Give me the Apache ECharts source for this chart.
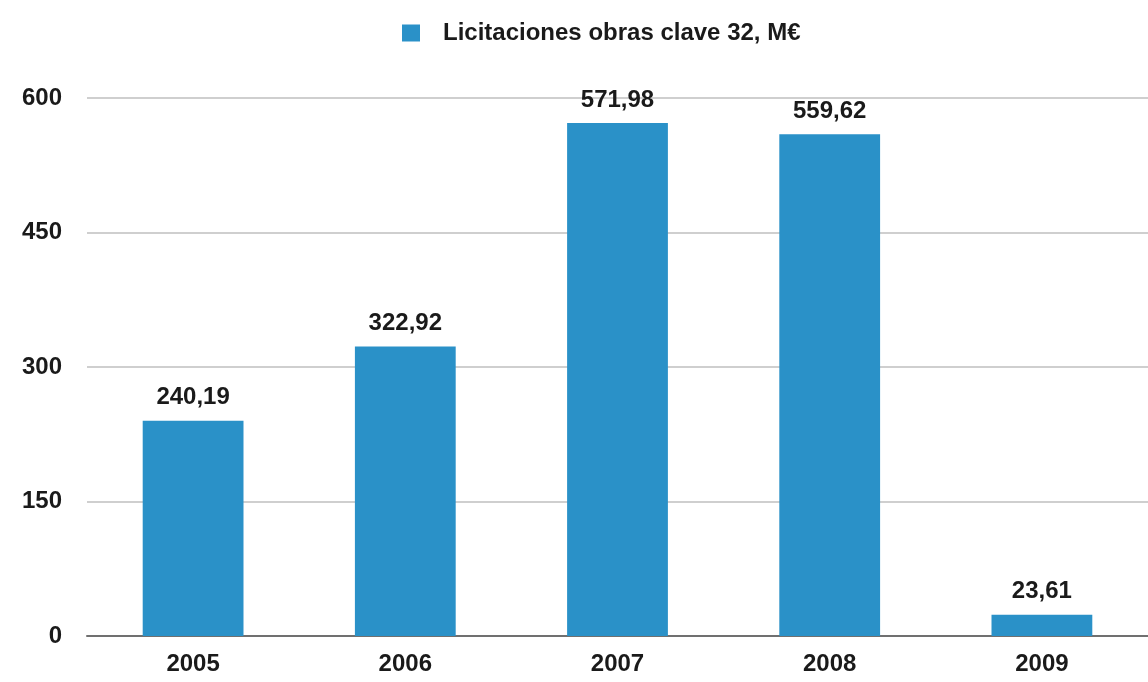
<!DOCTYPE html>
<html>
<head>
<meta charset="utf-8">
<script src="https://cdn.jsdelivr.net/npm/echarts@6/dist/echarts.min.js"></script>
<style>
  html, body { margin: 0; padding: 0; background: #fff; }
  #chart { width: 1148px; height: 682px; }
</style>
</head>
<body>
<div id="chart"></div>
<script>
const years = ["2005", "2006", "2007", "2008", "2009"];
const values = [240.19, 322.92, 571.98, 559.62, 23.61];
const seriesName = "Licitaciones obras clave 32, M€";
const yTicks = [0, 150, 300, 450, 600];

const font = "'Liberation Sans', Arial, sans-serif";
const chart = echarts.init(document.getElementById("chart"));

chart.setOption({
  backgroundColor: "#ffffff",
  animation: false,
  legend: {
    top: 16,
    left: 397,
    icon: "rect",
    itemWidth: 18,
    itemHeight: 17,
    textStyle: {
      fontFamily: font, fontWeight: "bold", fontSize: 24, color: "#1a1a1a",
      padding: [0, 0, 0, 18]
    },
    data: [seriesName]
  },
  grid: { left: 87, right: 0, top: 98, bottom: 46 },
  xAxis: {
    type: "category",
    data: years,
    axisTick: { show: false },
    axisLine: { lineStyle: { color: "#707070", width: 2 } },
    axisLabel: { fontFamily: font, fontWeight: "bold", fontSize: 24, color: "#1a1a1a", margin: 16 }
  },
  yAxis: {
    type: "value",
    min: yTicks[0],
    max: yTicks[yTicks.length - 1],
    interval: 150,
    axisLine: { show: false },
    axisTick: { show: false },
    splitLine: { lineStyle: { color: "#cfcfcf", width: 2 } },
    axisLabel: { fontFamily: font, fontWeight: "bold", fontSize: 24, color: "#1a1a1a", margin: 25 }
  },
  series: [
    {
      name: seriesName,
      type: "bar",
      data: values,
      barWidth: "47.5%",
      itemStyle: { color: "#2a91c8" },
      label: {
        show: true,
        position: "top",
        distance: 11,
        fontFamily: font,
        fontWeight: "bold",
        fontSize: 24,
        color: "#1a1a1a",
        formatter: (p) => p.value.toFixed(2).replace(".", ",")
      }
    }
  ]
});
</script>
</body>
</html>
